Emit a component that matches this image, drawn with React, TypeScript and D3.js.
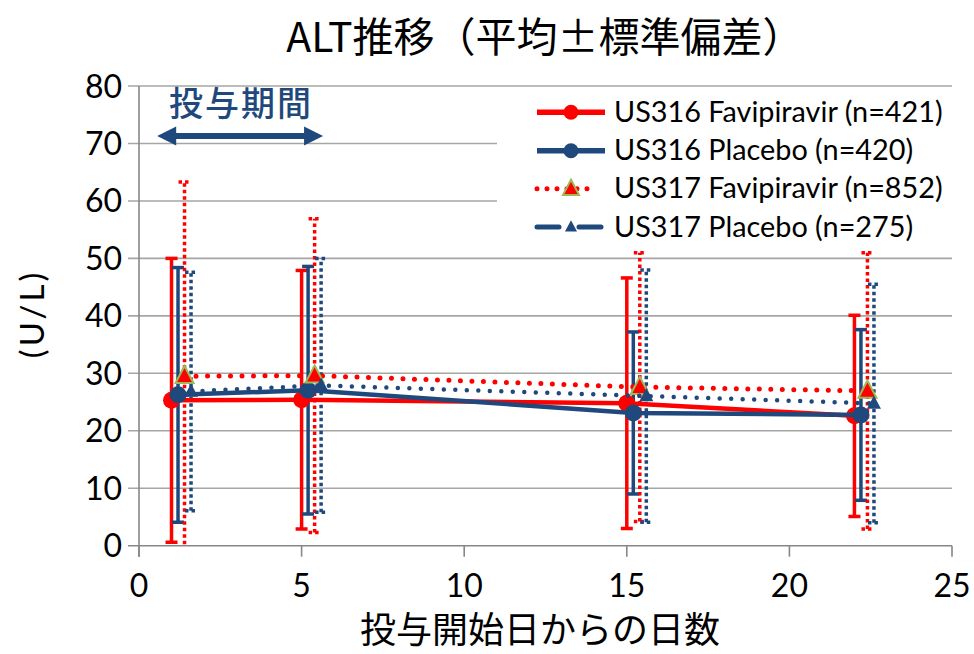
import React from 'react';
import * as d3 from 'd3';

const title = 'ALT推移（平均±標準偏差）';
const xLabel = '投与開始日からの日数';
const yLabel = '(U/L)';
const periodLabel = '投与期間';
const xTicks = [0, 5, 10, 15, 20, 25];
const yTicks = [0, 10, 20, 30, 40, 50, 60, 70, 80];
const periodRange = [0.56, 5.66];

const seriesNames = [
  'US316 Favipiravir (n=421)',
  'US316 Placebo (n=420)',
  'US317 Favipiravir (n=852)',
  'US317 Placebo (n=275)',
];

const s1Days = [1, 5, 15, 22];
const s1Mean = [25.3, 25.4, 24.8, 22.6];
const s1SD = [24.7, 22.5, 21.8, 17.5];

const s2Days = [1.2, 5.2, 15.2, 22.2];
const s2Mean = [26.25, 27.05, 23.1, 22.75];
const s2SD = [22.15, 21.55, 14.1, 14.85];

const s3Days = [1.4, 5.4, 15.4, 22.4];
const s3Mean = [29.5, 29.6, 27.6, 26.95];
const s3SD = [33.8, 27.3, 23.4, 24.05];

const s4Days = [1.6, 5.6, 15.6, 22.6];
const s4Mean = [26.85, 27.9, 26.05, 24.75];
const s4SD = [20.75, 22.1, 21.95, 20.75];

const RED = '#FF0000';
const BLUE = '#1F497D';
const GREEN = '#9BBB59';
const GRID = '#A6A6A6';
const AXIS = '#878787';
const LATIN = 'Lato, "Noto Sans", sans-serif';
const CJK = '"Noto Sans CJK JP", sans-serif';

type Series = {
  name: string;
  days: number[];
  mean: number[];
  sd: number[];
  color: string;
  lineDash: string | null;
  lineWidth: number;
  marker: 'circle' | 'triangle';
  markerSize: number;
  markerStroke: string | null;
  barDash: string | null;
  legendDash: string | null;
};

const series: Series[] = [
  { name: seriesNames[0], days: s1Days, mean: s1Mean, sd: s1SD, color: RED, lineDash: null, lineWidth: 4.5, marker: 'circle', markerSize: 8.5, markerStroke: null, barDash: null, legendDash: null },
  { name: seriesNames[1], days: s2Days, mean: s2Mean, sd: s2SD, color: BLUE, lineDash: null, lineWidth: 4.5, marker: 'circle', markerSize: 8.5, markerStroke: null, barDash: null, legendDash: null },
  { name: seriesNames[2], days: s3Days, mean: s3Mean, sd: s3SD, color: RED, lineDash: '0 11.5', lineWidth: 5, marker: 'triangle', markerSize: 18, markerStroke: GREEN, barDash: '3.5 3', legendDash: '0 10' },
  { name: seriesNames[3], days: s4Days, mean: s4Mean, sd: s4SD, color: BLUE, lineDash: '0 11.5', lineWidth: 4.5, marker: 'triangle', markerSize: 14, markerStroke: null, barDash: '3.5 3', legendDash: '22 20' },
];

const W = 974;
const H = 654;
const x = d3.scaleLinear().domain([0, 25]).range([139, 952]);
const y = d3.scaleLinear().domain([0, 80]).range([545.7, 86]);

function Marker({ s, cx, cy }: { s: Series; cx: number; cy: number }) {
  if (s.marker === 'circle') {
    return <circle cx={cx} cy={cy} r={s.markerSize} fill={s.color} />;
  }
  const a = s.markerSize;
  const h = a * 0.95;
  const pts = `${cx},${cy - h * 0.6} ${cx - a / 2},${cy + h * 0.4} ${cx + a / 2},${cy + h * 0.4}`;
  return (
    <polygon
      points={pts}
      fill={s.color}
      stroke={s.markerStroke ?? 'none'}
      strokeWidth={s.markerStroke ? 2 : 0}
      strokeLinejoin="miter"
    />
  );
}

export default function App() {
  const line = d3
    .line<[number, number]>()
    .x((d) => x(d[0]))
    .y((d) => y(d[1]));

  const capHalf = 6;
  const legendX0 = 537;
  const legendX1 = 605;
  const legendRowY = [112.3, 150.7, 188.8, 227];

  return (
    <svg
      width={W}
      height={H}
      viewBox={`0 0 ${W} ${H}`}
      style={{ position: 'absolute', left: 0, top: 0, background: '#fff' }}
    >
      <defs>
        <clipPath id="plotClip">
          <rect x={x(0)} y={y(80) - 20} width={x(25) - x(0)} height={y(0) - y(80) + 20} />
        </clipPath>
      </defs>
      <rect x={0} y={0} width={W} height={H} fill="#fff" />

      {/* title */}
      <text x={545} y={52} textAnchor="middle" fontFamily={CJK} fontSize={41} fill="#000">
        {title}
      </text>

      {/* grid lines */}
      {yTicks.map((t) => (
        <line key={'g' + t} x1={128} x2={x(25)} y1={y(t)} y2={y(t)} stroke={t === 0 ? AXIS : GRID} strokeWidth={1.6} />
      ))}
      {/* y axis */}
      <line x1={x(0)} x2={x(0)} y1={y(80)} y2={y(0) + 11} stroke={AXIS} strokeWidth={1.6} />
      {/* x ticks */}
      {xTicks.map((t) => (
        <line key={'xt' + t} x1={x(t)} x2={x(t)} y1={y(0)} y2={y(0) + 11} stroke={AXIS} strokeWidth={1.6} />
      ))}

      {/* y tick labels */}
      {yTicks.map((t) => (
        <text key={'yl' + t} x={122} y={y(t) + 11.5} textAnchor="end" fontFamily={LATIN} fontSize={32} fill="#000">
          {t}
        </text>
      ))}
      {/* x tick labels */}
      {xTicks.map((t) => (
        <text key={'xl' + t} x={x(t)} y={597} textAnchor="middle" fontFamily={LATIN} fontSize={32} fill="#000">
          {t}
        </text>
      ))}

      {/* axis titles */}
      <text x={540} y={643} textAnchor="middle" fontFamily={CJK} fontSize={36} fill="#000">
        {xLabel}
      </text>
      <text
        transform={`translate(44, ${314}) rotate(-90)`}
        textAnchor="middle"
        fontFamily={LATIN}
        fontSize={33}
        letterSpacing={3}
        fill="#000"
      >
        {yLabel}
      </text>

      {/* legend box */}
      <rect x={497} y={88} width={458} height={160} fill="#fff" />

      {/* period annotation */}
      <text x={241} y={116} textAnchor="middle" fontFamily={CJK} fontSize={34} fontWeight={500} fill={BLUE} letterSpacing={2}>
        {periodLabel}
      </text>
      {(() => {
        const xa = x(periodRange[0]);
        const xb = x(periodRange[1]);
        const yy = 136;
        const hl = 19;
        const hh = 9.5;
        return (
          <g fill={BLUE} stroke="none">
            <rect x={xa + hl - 1} y={yy - 3} width={xb - xa - 2 * hl + 2} height={6} />
            <polygon points={`${xa},${yy} ${xa + hl},${yy - hh} ${xa + hl},${yy + hh}`} />
            <polygon points={`${xb},${yy} ${xb - hl},${yy - hh} ${xb - hl},${yy + hh}`} />
          </g>
        );
      })()}

      {/* series */}
      <g clipPath="url(#plotClip)">
        {series.map((s, si) => (
          <g key={'eb' + si}>
            {s.days.map((d, i) => {
              const lo = s.mean[i] - s.sd[i];
              const hi = s.mean[i] + s.sd[i];
              const cx = x(d);
              const dash = s.barDash ?? undefined;
              return (
                <g key={i} stroke={s.color} strokeWidth={3.5} strokeDasharray={dash} fill="none">
                  <line x1={cx} x2={cx} y1={y(Math.max(lo, -2))} y2={y(hi)} />
                  <line x1={cx - capHalf} x2={cx + capHalf} y1={y(hi)} y2={y(hi)} />
                  {lo >= 0 && <line x1={cx - capHalf} x2={cx + capHalf} y1={y(lo)} y2={y(lo)} />}
                </g>
              );
            })}
          </g>
        ))}
        {series.map((s, si) => (
          <g key={'ln' + si}>
            <path
              d={line(s.days.map((d, i) => [d, s.mean[i]] as [number, number])) ?? ''}
              fill="none"
              stroke={s.color}
              strokeWidth={s.lineWidth}
              strokeDasharray={s.lineDash ?? undefined}
              strokeLinecap={s.lineDash ? 'round' : 'butt'}
              strokeLinejoin="round"
            />
            {s.days.map((d, i) => (
              <Marker key={i} s={s} cx={x(d)} cy={y(s.mean[i])} />
            ))}
          </g>
        ))}
      </g>

      {/* legend entries */}
      {series.map((s, si) => {
        const ly = legendRowY[si];
        const mid = (legendX0 + legendX1) / 2;
        return (
          <g key={'lg' + si}>
            <line
              x1={legendX0}
              x2={s.legendDash === '0 10' ? legendX1 - 8 : legendX1 + (s.legendDash ? -4 : 0)}
              y1={ly}
              y2={ly}
              stroke={s.color}
              strokeWidth={s.lineDash ? 5 : 5.5}
              strokeDasharray={s.legendDash ?? undefined}
              strokeLinecap={s.legendDash ? 'round' : 'butt'}
            />
            <Marker s={{ ...s, markerSize: s.marker === 'circle' ? 7.5 : s.markerSize - 2 }} cx={mid} cy={ly} />
            <text x={614} y={ly + 9.5} fontFamily={LATIN} fontSize={28.8} fill="#000">
              {s.name}
            </text>
          </g>
        );
      })}
    </svg>
  );
}
